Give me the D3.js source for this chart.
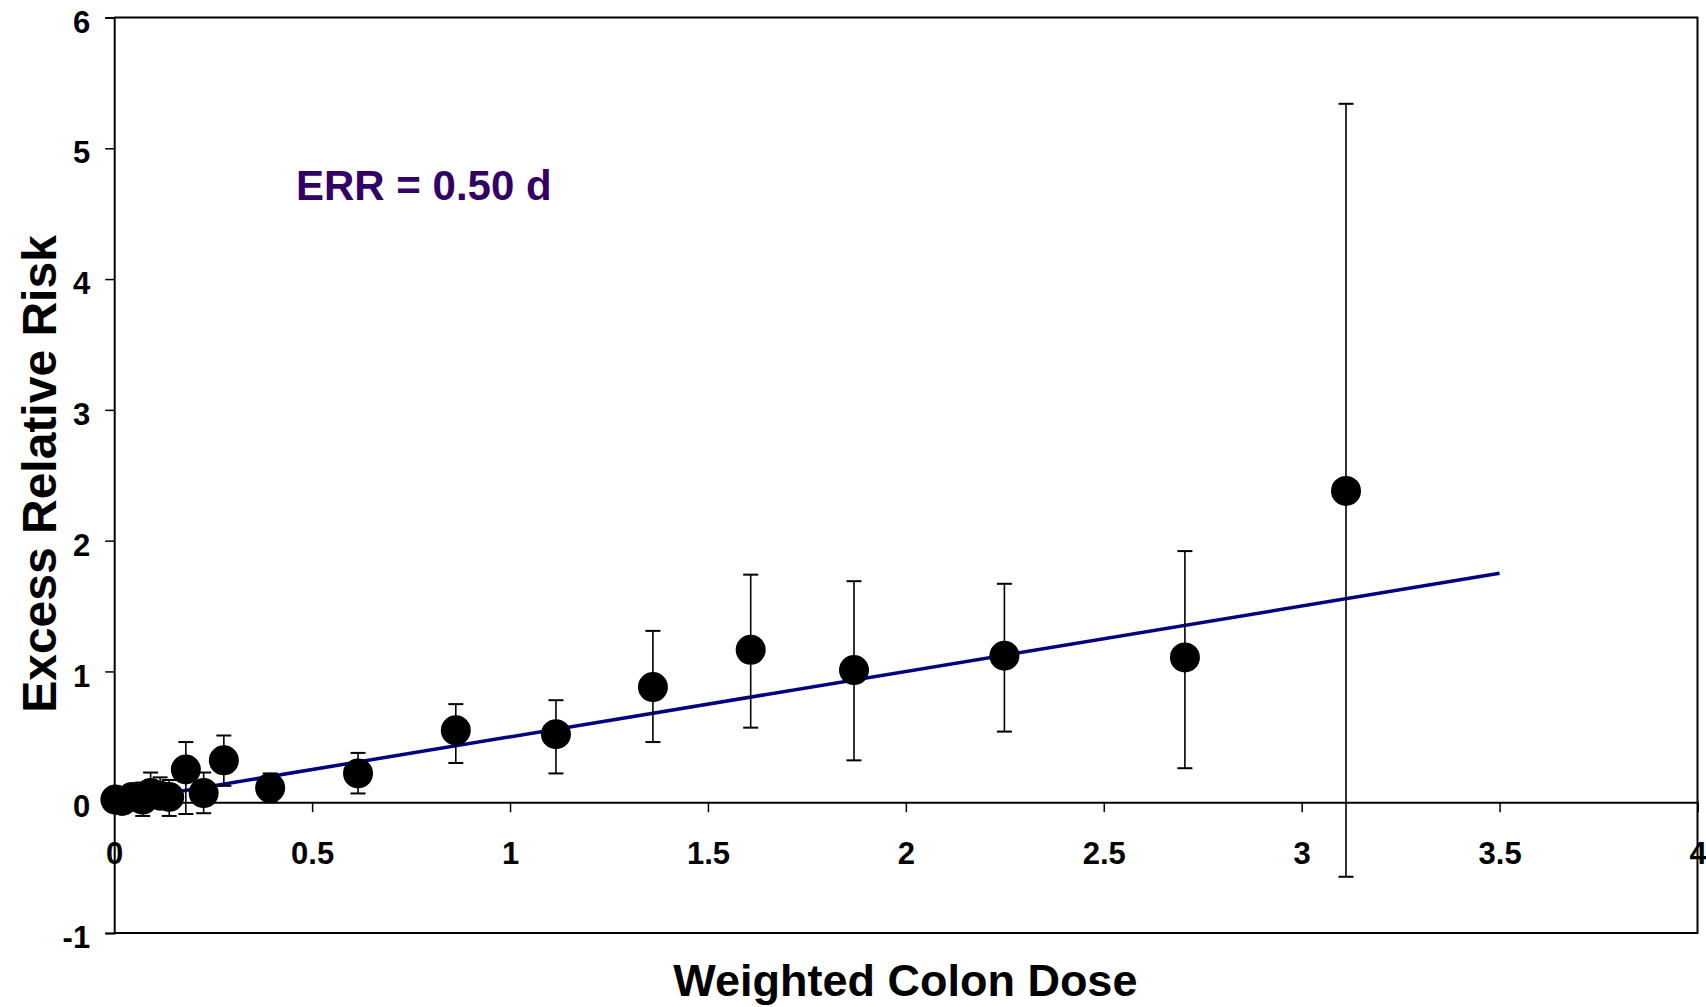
<!DOCTYPE html>
<html>
<head>
<meta charset="utf-8">
<script src="https://cdn.jsdelivr.net/npm/d3@7/dist/d3.min.js"></script>
<style>
  html, body { margin: 0; padding: 0; background: #fff; }
  svg { display: block; }
  text { font-family: "Liberation Sans", Arial, Helvetica, sans-serif; font-weight: bold; }
</style>
</head>
<body>
<svg id="chart" width="1706" height="1007"></svg>
<script>
// Dose groups: weighted colon dose, excess relative risk and its confidence limits
const dose  = [0.003, 0.02, 0.045, 0.072, 0.092, 0.116, 0.139, 0.181, 0.226, 0.277, 0.394, 0.616, 0.863, 1.116, 1.361, 1.608, 1.869, 2.249, 2.705, 3.112];
const err   = [0.02, 0.01, 0.04, 0.02, 0.07, 0.05, 0.04, 0.25, 0.07, 0.32, 0.11, 0.22, 0.55, 0.52, 0.88, 1.165, 1.01, 1.12, 1.107, 2.38];
const errLo = [0.00, -0.03, -0.02, -0.105, -0.03, -0.04, -0.105, -0.09, -0.084, 0.125, 0.00, 0.067, 0.30, 0.22, 0.46, 0.57, 0.32, 0.54, 0.26, -0.57];
const errHi = [0.06, 0.07, 0.12, 0.15, 0.227, 0.19, 0.17, 0.46, 0.227, 0.51, 0.22, 0.377, 0.75, 0.78, 1.31, 1.74, 1.69, 1.67, 1.92, 5.34];

// Linear fit ERR = slope * d
const slope = 0.50;
const fitDose = [0, 3.5];

const xTicks = [0, 0.5, 1, 1.5, 2, 2.5, 3, 3.5, 4];
const yTicks = [-1, 0, 1, 2, 3, 4, 5, 6];

const fitLabel = "ERR = 0.50 d";
const xTitle = "Weighted Colon Dose";
const yTitle = "Excess Relative Risk";

const svg = d3.select("#chart");

const plot = { left: 114.2, right: 1697.5, top: 17.5, bottom: 933 };

const x = d3.scaleLinear().domain([0, 4]).range([plot.left, plot.right]);
const y = d3.scaleLinear().domain([-1, 6]).range([plot.bottom, plot.top]);

const tickFont = '"Liberation Sans", Arial, sans-serif';

// Plot frame (top, right, bottom)
svg.append("path")
  .attr("d", `M${plot.left},${plot.top}H${plot.right}V${plot.bottom}H${plot.left}`)
  .attr("fill", "none").attr("stroke", "#000").attr("stroke-width", 2);

// Y axis on the left edge, ticks pointing outward
const yAxis = d3.axisLeft(y).tickValues(yTicks).tickSize(9).tickFormat(d => String(d));
const gy = svg.append("g").attr("transform", `translate(${plot.left},0)`).call(yAxis);
gy.select(".domain").attr("stroke", "#000").attr("stroke-width", 2);
gy.selectAll(".tick line").attr("stroke", "#000").attr("stroke-width", 1.5);
gy.selectAll(".tick text")
  .attr("font-size", 31).attr("fill", "#000")
  .attr("x", -24).attr("dy", "0.47em")
  .style("font-family", tickFont).style("font-weight", "bold");

// X axis through ERR = 0, ticks pointing down
const xAxis = d3.axisBottom(x).tickValues(xTicks).tickSize(10).tickFormat(d => String(d));
const gx = svg.append("g").attr("transform", `translate(0,${y(0)})`).call(xAxis);
gx.select(".domain").attr("stroke", "#000").attr("stroke-width", 2);
gx.selectAll(".tick line").attr("stroke", "#000").attr("stroke-width", 1.5);
gx.selectAll(".tick text")
  .attr("font-size", 31).attr("fill", "#000")
  .attr("y", 62).attr("dy", 0)
  .style("font-family", tickFont).style("font-weight", "bold");
// keep the axis lines above their labels
gx.select(".domain").raise();
gy.select(".domain").raise();

// Fitted line
const line = d3.line().x(d => x(d)).y(d => y(slope * d));
svg.append("path")
  .datum(fitDose)
  .attr("d", line)
  .attr("fill", "none")
  .attr("stroke", "#000080")
  .attr("stroke-width", 3.5);

// Error bars
const capW = 7.5;
const bars = svg.append("g").attr("stroke", "#000").attr("fill", "none");
dose.forEach((d, i) => {
  const cx = x(d);
  bars.append("line").attr("x1", cx).attr("x2", cx)
    .attr("y1", y(errLo[i])).attr("y2", y(errHi[i])).attr("stroke-width", 1.6);
  [errLo[i], errHi[i]].forEach(v => {
    bars.append("line").attr("x1", cx - capW).attr("x2", cx + capW)
      .attr("y1", y(v)).attr("y2", y(v)).attr("stroke-width", 2);
  });
});

// Points
svg.append("g").selectAll("circle")
  .data(dose.map((d, i) => [d, err[i]]))
  .join("circle")
  .attr("cx", d => x(d[0]))
  .attr("cy", d => y(d[1]))
  .attr("r", 15)
  .attr("fill", "#000");

// Fit annotation
svg.append("text")
  .attr("x", 296).attr("y", 200)
  .attr("font-size", 42)
  .attr("fill", "#330066")
  .text(fitLabel);

// Axis titles
svg.append("text")
  .attr("x", (plot.left + plot.right) / 2 - 0.5).attr("y", 996)
  .attr("text-anchor", "middle")
  .attr("font-size", 45)
  .attr("fill", "#000")
  .text(xTitle);

svg.append("text")
  .attr("transform", "translate(56,474) rotate(-90)")
  .attr("text-anchor", "middle")
  .attr("font-size", 48)
  .attr("fill", "#000")
  .text(yTitle);
</script>
</body>
</html>
